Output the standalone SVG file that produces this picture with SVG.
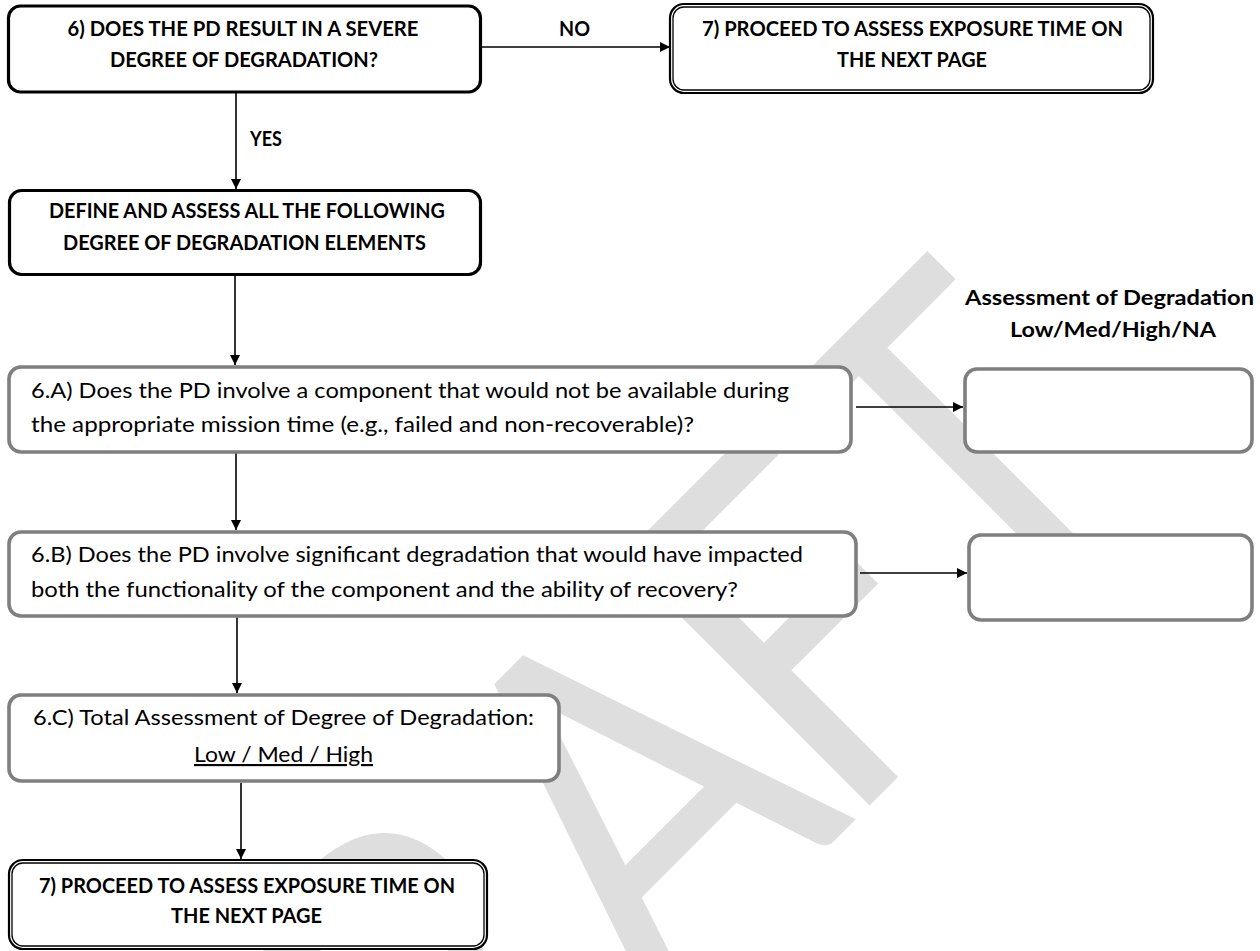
<svg xmlns="http://www.w3.org/2000/svg" width="1260" height="951" viewBox="0 0 1260 951">
<style>
  .bg{fill:#ffffff}
  .wm{font-family:Lato,"Liberation Sans",sans-serif;font-size:490px;fill:#dedede;text-anchor:middle}
  .bk{fill:#ffffff;stroke:#000000;stroke-width:3.2}
  .gr{fill:#ffffff;stroke:#7f7f7f;stroke-width:3.6}
  .dbo{fill:#ffffff;stroke:#000000;stroke-width:2.2}
  .dbi{fill:none;stroke:#000000;stroke-width:1.3}
  .b{font-family:Lato,"Liberation Sans",sans-serif;font-weight:bold;font-size:21px;fill:#000;text-anchor:middle}
  .r{font-family:Lato,"Liberation Sans",sans-serif;font-size:21.5px;fill:#000}
  .c{stroke:#000;stroke-width:1.6;fill:none;marker-end:url(#ah)}
</style>
<defs>
  <marker id="ah" markerWidth="11" markerHeight="11" refX="10" refY="5" orient="auto" markerUnits="userSpaceOnUse">
    <path d="M0,0 L10,5 L0,10 Z" fill="#000"/>
  </marker>
</defs>
<rect class="bg" x="0" y="0" width="1260" height="951"/>
<g id="watermark">
  <text class="wm" transform="translate(757,918) rotate(-45) scale(0.85,1)" x="-659 -329 0 281 559" y="0">DRAFT</text>
</g>
<g id="connectors">
  <line class="c" x1="482" y1="47" x2="670" y2="47"/>
  <line class="c" x1="236" y1="93" x2="236" y2="189"/>
  <line class="c" x1="235" y1="276" x2="235" y2="365"/>
  <line class="c" x1="856" y1="407" x2="963" y2="407"/>
  <line class="c" x1="236" y1="453" x2="236" y2="530"/>
  <line class="c" x1="860" y1="573" x2="967" y2="573"/>
  <line class="c" x1="237" y1="617" x2="237" y2="693"/>
  <line class="c" x1="241" y1="783" x2="241" y2="859"/>
</g>
<g id="labels">
  <text class="b" x="574.5" y="36" textLength="31" lengthAdjust="spacingAndGlyphs">NO</text>
  <text class="b" x="266" y="146" textLength="32" lengthAdjust="spacingAndGlyphs">YES</text>
</g>
<g id="n6">
  <rect class="bk" x="8.5" y="6" width="472" height="86" rx="12"/>
  <text class="b" x="243" y="36" textLength="351" lengthAdjust="spacingAndGlyphs">6) DOES THE PD RESULT IN A SEVERE</text>
  <text class="b" x="244" y="67" textLength="268" lengthAdjust="spacingAndGlyphs">DEGREE OF DEGRADATION?</text>
</g>
<g id="n7top">
  <rect class="dbo" x="670" y="4" width="483" height="89" rx="14"/>
  <rect class="dbi" x="673" y="7" width="477" height="83" rx="11"/>
  <text class="b" x="912.5" y="36" textLength="421" lengthAdjust="spacingAndGlyphs">7) PROCEED TO ASSESS EXPOSURE TIME ON</text>
  <text class="b" x="912" y="67" textLength="150" lengthAdjust="spacingAndGlyphs">THE NEXT PAGE</text>
</g>
<g id="ndefine">
  <rect class="bk" x="9.5" y="190.5" width="471" height="84" rx="12"/>
  <text class="b" x="247" y="218" textLength="396" lengthAdjust="spacingAndGlyphs">DEFINE AND ASSESS ALL THE FOLLOWING</text>
  <text class="b" x="244.5" y="250" textLength="363" lengthAdjust="spacingAndGlyphs">DEGREE OF DEGRADATION ELEMENTS</text>
</g>
<g id="header">
  <text class="b" x="1109.5" y="305" textLength="289" lengthAdjust="spacingAndGlyphs">Assessment of Degradation</text>
  <text class="b" x="1113" y="337" textLength="206" lengthAdjust="spacingAndGlyphs">Low/Med/High/NA</text>
</g>
<g id="n6a">
  <rect class="gr" x="9" y="367" width="842" height="85" rx="12"/>
  <text class="r" x="31" y="398" textLength="758" lengthAdjust="spacingAndGlyphs">6.A) Does the PD involve a component that would not be available during</text>
  <text class="r" x="31" y="432" textLength="663" lengthAdjust="spacingAndGlyphs">the appropriate mission time (e.g., failed and non-recoverable)?</text>
</g>
<g id="n6a-rating">
  <rect class="gr" x="965" y="369" width="287" height="83" rx="12"/>
</g>
<g id="n6b">
  <rect class="gr" x="9" y="532" width="847" height="84" rx="12"/>
  <text class="r" x="31" y="562" textLength="772" lengthAdjust="spacingAndGlyphs">6.B) Does the PD involve significant degradation that would have impacted</text>
  <text class="r" x="31" y="597" textLength="707" lengthAdjust="spacingAndGlyphs">both the functionality of the component and the ability of recovery?</text>
</g>
<g id="n6b-rating">
  <rect class="gr" x="969" y="535" width="283" height="85" rx="12"/>
</g>
<g id="n6c">
  <rect class="gr" x="9" y="695" width="550" height="86" rx="12"/>
  <text class="r" x="33" y="725" textLength="501" lengthAdjust="spacingAndGlyphs">6.C) Total Assessment of Degree of Degradation:</text>
  <text class="r" x="283.5" y="762" text-anchor="middle" text-decoration="underline" textLength="179" lengthAdjust="spacingAndGlyphs">Low / Med / High</text>
</g>
<g id="n7bottom">
  <rect class="dbo" x="9" y="860" width="478" height="89" rx="14"/>
  <rect class="dbi" x="12" y="863" width="472" height="83" rx="11"/>
  <text class="b" x="247" y="893" textLength="416" lengthAdjust="spacingAndGlyphs">7) PROCEED TO ASSESS EXPOSURE TIME ON</text>
  <text class="b" x="246.5" y="923" textLength="151" lengthAdjust="spacingAndGlyphs">THE NEXT PAGE</text>
</g>
</svg>
